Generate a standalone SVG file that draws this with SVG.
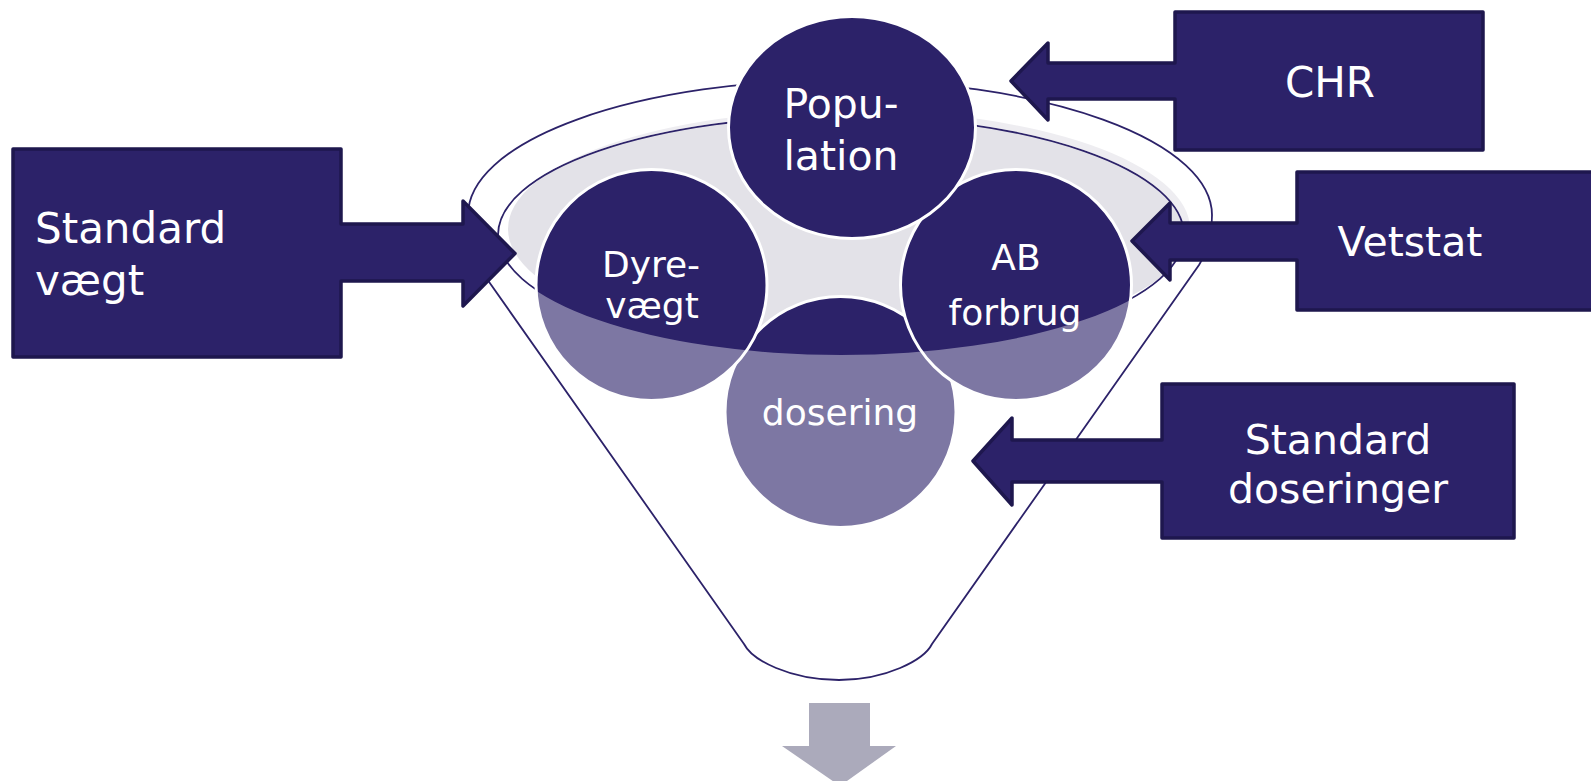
<svg xmlns="http://www.w3.org/2000/svg" width="1591" height="781" viewBox="0 0 1591 781">
<defs>
<style>
.t{font-family:"DejaVu Sans",Verdana,sans-serif;fill:#ffffff;text-anchor:middle}
.tl{font-family:"DejaVu Sans",Verdana,sans-serif;fill:#ffffff;text-anchor:start}
.big{font-size:41px}
.sm{font-size:36px}
.callout{fill:#2C2269;stroke:#1E174E;stroke-width:3.5;stroke-linejoin:round}
.circ{fill:#2C2269;stroke:#ffffff;stroke-width:3}
.line{fill:none;stroke:#2C2269;stroke-width:1.8}
</style>
</defs>
<rect width="1591" height="781" fill="#ffffff"/>
<g id="funnel">
  <ellipse cx="849" cy="229" rx="341" ry="119" fill="#E3E2E8"/>
  <ellipse class="line" cx="841" cy="235" rx="343" ry="119"/>
</g>
<g id="dosering">
  <circle class="circ" cx="840.5" cy="412" r="115.5"/>
  <text class="t sm" x="840" y="425">dosering</text>
</g>
<g id="dyrevaegt">
  <circle class="circ" cx="651.5" cy="285" r="115.5"/>
  <text class="t sm" x="651" y="277">Dyre-</text>
  <text class="t sm" x="652" y="318">vægt</text>
</g>
<g id="ab-forbrug">
  <circle class="circ" cx="1016" cy="285" r="115.5"/>
  <text class="t sm" x="1016" y="270">AB</text>
  <text class="t sm" x="1015" y="325">forbrug</text>
</g>
<g id="funnel-front">
  <path fill="#ffffff" fill-opacity="0.39" fill-rule="evenodd" d="M 744 644 L 487 279 C 474 261 468 240 468 215 A 372 135 0 0 1 1212 215 C 1212 238 1207 252 1199 265 L 932 644 C 924 660 886 680 839 680 C 790 680 752 660 744 644 Z M 497 235 A 344 120 0 1 0 1185 235 A 344 120 0 1 0 497 235 Z"/>
  <path class="line" d="M 744 644 L 487 279 C 474 261 468 240 468 215 A 372 135 0 0 1 1212 215 C 1212 238 1207 252 1199 265 L 932 644 C 924 660 886 680 839 680 C 790 680 752 660 744 644 Z"/>
</g>
<g id="population">
  <ellipse class="circ" cx="852" cy="127.5" rx="123.5" ry="111"/>
  <text class="t big" x="841" y="118">Popu-</text>
  <text class="t big" x="841" y="170">lation</text>
</g>
<g id="standard-vaegt">
  <path class="callout" d="M 13 149 H 341 V 224 H 463 V 201 L 515 253.5 L 463 306 V 281 H 341 V 357 H 13 Z"/>
  <text class="tl" style="font-size:42px" x="35" y="243">Standard</text>
  <text class="tl" style="font-size:42px" x="35" y="295">vægt</text>
</g>
<g id="chr">
  <path class="callout" d="M 1175 12 H 1483 V 150 H 1175 V 99 H 1048 V 120 L 1011 81 L 1048 43 V 63 H 1175 Z"/>
  <text class="t" style="font-size:42px" x="1330" y="97">CHR</text>
</g>
<g id="vetstat">
  <path class="callout" d="M 1297 172 H 1600 V 310 H 1297 V 260 H 1170 V 280 L 1132 241 L 1170 203 V 223 H 1297 Z"/>
  <text class="t" style="font-size:41px" x="1410" y="256">Vetstat</text>
</g>
<g id="standard-doseringer">
  <path class="callout" d="M 1162 384 H 1514 V 538 H 1162 V 482 H 1012 V 505 L 973 461 L 1012 418 V 440 H 1162 Z"/>
  <text class="t" style="font-size:41px" x="1338" y="454">Standard</text>
  <text class="t" style="font-size:41px" x="1338" y="503">doseringer</text>
</g>
<g id="connectors">
  <path fill="#ABAABB" d="M 809 703 H 870 V 746 H 896 L 840 786 L 782 746 H 809 Z"/>
</g>
</svg>
